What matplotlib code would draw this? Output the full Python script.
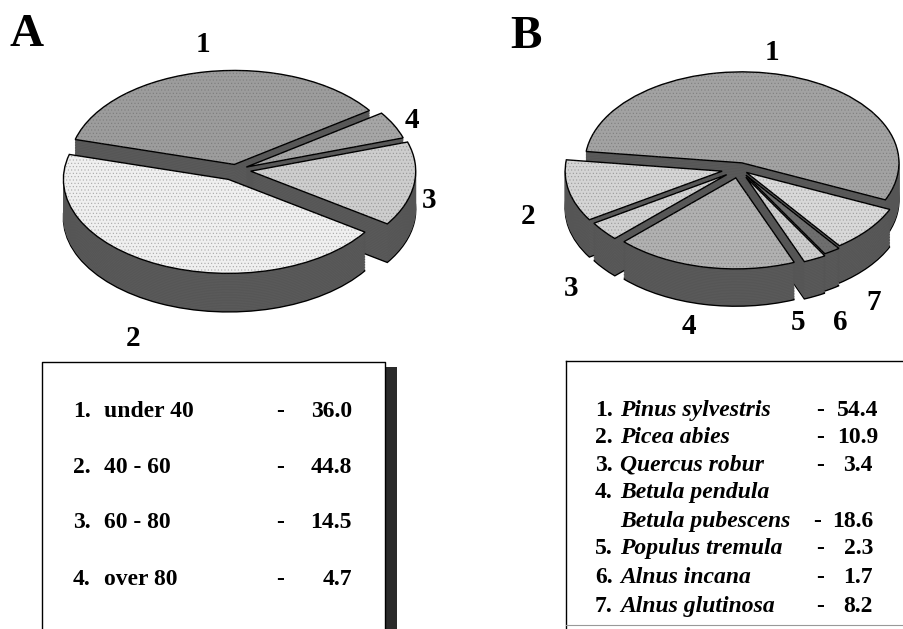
import matplotlib
matplotlib.use("Agg")
import matplotlib.pyplot as plt

plt.rcParams['font.family'] = ['Liberation Serif', 'DejaVu Serif']
plt.rcParams['font.weight'] = 'bold'
plt.rcParams['hatch.linewidth'] = 0.5

W, H = 904, 629

# Data
age_names = ["under 40", "40 - 60", "60 - 80", "over 80"]
age_values = [36.0, 44.8, 14.5, 4.7]

tree_names = ["Pinus sylvestris", "Picea abies", "Quercus robur", "Betula pendula",
              "Betula pubescens", "Populus tremula", "Alnus incana", "Alnus glutinosa"]
tree_numbers = ["1.", "2.", "3.", "4.", "", "5.", "6.", "7."]
tree_labels = ["54.4", "10.9", "3.4", "", "18.6", "2.3", "1.7", "8.2"]
tree_values = [54.4, 10.9, 3.4, 18.6, 2.3, 1.7, 8.2]

# Style
age_colors = ['#9c9c9c', '#efefef', '#cdcdcd', '#a6a6a6']
age_explode = [0.06, 0.11, 0.09, 0.07]
tree_colors = ['#a2a2a2', '#d4d4d4', '#d0d0d0', '#b0b0b0', '#cccccc', '#6e6e6e', '#d8d8d8']
tree_explode = [0.07, 0.11, 0.10, 0.10, 0.10, 0.08, 0.06]


def draw_pie(cx, cy, sx, sy, values, colors, explode, start, xlim, ylim, depth=0.41):
    # axes placed so that one pie radius is sx by sy pixels
    left = cx + xlim[0] * sx
    bottom = cy - ylim[0] * sy
    ax = fig.add_axes([left / W, 1 - bottom / H,
                       (xlim[1] - xlim[0]) * sx / W, (ylim[1] - ylim[0]) * sy / H])
    # side walls, stacked from the bottom up
    n = 24
    for k in range(n, 0, -1):
        edge = 'black' if k == n else '#555555'
        ax.pie(values, explode=explode, startangle=start, colors=['#5c5c5c'] * len(values),
               center=(0, -depth * k / n), radius=1,
               wedgeprops={'edgecolor': edge, 'linewidth': 1.0 if k == n else 0.6})
    # top faces
    ax.pie(values, explode=explode, startangle=start, colors=colors,
           wedgeprops={'edgecolor': 'black', 'linewidth': 1.0})
    # speckle on the top faces
    ax.pie(values, explode=explode, startangle=start, colors=['none'] * len(values),
           wedgeprops={'edgecolor': '#555555', 'linewidth': 0, 'hatch': '.....', 'alpha': 0.35})
    ax.set_aspect('auto')
    ax.set_xlim(xlim)
    ax.set_ylim(ylim)
    ax.axis('off')
    return ax


fig = plt.figure(figsize=(W / 100, H / 100), dpi=100)

draw_pie(236, 170, 165, 94, age_values, age_colors, age_explode, 35, (-1.25, 1.25), (-1.65, 1.25))
draw_pie(739, 169, 157, 91, tree_values, tree_colors, tree_explode, -24, (-1.3, 1.03), (-1.65, 1.25))

# overlay in pixels for letters and the two text boxes
over = fig.add_axes([0, 0, 1, 1])
over.set_xlim(0, W)
over.set_ylim(H, 0)
over.axis('off')
over.patch.set_alpha(0)

over.text(27, 46, "A", fontsize=34, ha='center', va='baseline')
over.text(526, 48, "B", fontsize=34, ha='center', va='baseline')

for s, x, y in [("1", 203, 45), ("2", 133, 338), ("3", 429, 200), ("4", 412, 121),
                ("1", 772, 52), ("2", 528, 216), ("3", 571, 288), ("4", 689, 327),
                ("5", 798, 323), ("6", 840, 323), ("7", 874, 303)]:
    over.text(x, y, s, fontsize=21, ha='center', va='center')

# box A
over.plot([42, 42, 385, 385], [H, 362, 362, H], color='black', lw=1.0)
over.fill_between([386, 397], 367, H, color='#2a2a2a', lw=0)

age_y = [417, 473, 528, 585]
for i in range(4):
    y = age_y[i]
    over.text(73, y, "%d." % (i + 1), fontsize=17, va='baseline')
    over.text(104, y, age_names[i], fontsize=17, va='baseline')
    over.text(280, y, "-", fontsize=17, va='baseline', ha='center')
    over.text(352, y, "%.1f" % age_values[i], fontsize=17, va='baseline', ha='right')

# box B
over.plot([566, 566], [H, 361], color='black', lw=1.0)
over.plot([566, W], [361, 361], color='black', lw=1.0)
over.plot([566, W], [625, 625], color='#999999', lw=0.8)

tree_y = [416, 443, 471, 498, 527, 554, 583, 612]
for i in range(8):
    y = tree_y[i]
    over.text(595, y, tree_numbers[i], fontsize=17, va='baseline')
    over.text(620, y, tree_names[i], fontsize=17, va='baseline', style='italic')
    if tree_labels[i]:
        dash_x = 817 if tree_labels[i] == "18.6" else 820
        right = 878 if tree_labels[i] in ("54.4", "10.9") else 873
        over.text(dash_x, y, "-", fontsize=17, va='baseline', ha='center')
        over.text(right, y, tree_labels[i], fontsize=17, va='baseline', ha='right')

fig.savefig("out.png", dpi=100)
